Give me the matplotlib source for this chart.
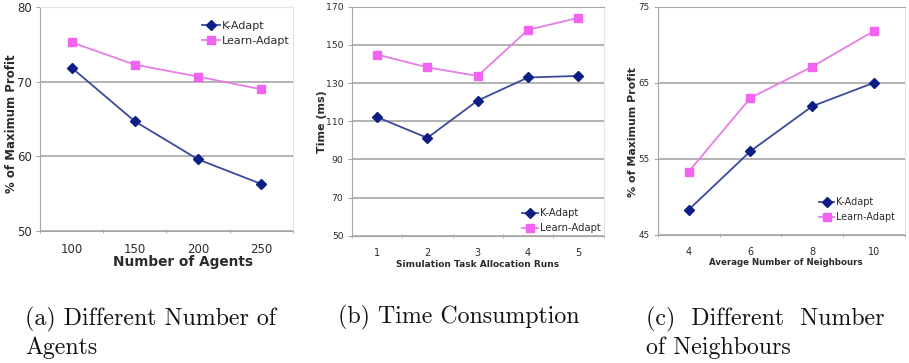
import matplotlib
matplotlib.use("Agg")
import matplotlib.pyplot as plt
import numpy as np

# (a) different number of agents
agents = ["100", "150", "200", "250"]
agents_k = [71.9, 64.7, 59.6, 56.3]
agents_learn = [75.3, 72.3, 70.7, 69.0]

# (b) time consumption
runs = ["1", "2", "3", "4", "5"]
time_k = [112.2, 101.3, 120.8, 132.9, 133.7]
time_learn = [144.9, 138.2, 133.7, 157.8, 164.1]

# (c) different number of neighbours
neighbours = ["4", "6", "8", "10"]
neigh_k = [48.3, 56.0, 61.9, 65.0]
neigh_learn = [53.3, 63.0, 67.1, 71.8]

K_LINE = "#3b4a9c"
K_MARK = "#0d1f85"
L_LINE = "#e67ee6"
L_MARK = "#f263f2"
GRID = "#a6a6a6"
TXT = "#2b2b2b"

fig = plt.figure(figsize=(9.09, 3.63), dpi=100)


def panel(rect, cats, k, learn, ylim, step, xlabel, ylabel, sizes, xl_pos, yl_pos,
          leg_anchor, top_col):
    # sizes: xlabel, ylabel, xticks, yticks, legend
    xls, yls, xts, yts, lgs = sizes
    ax = fig.add_axes(rect)
    x = np.arange(len(cats))
    ax.plot(x, k, color=K_LINE, lw=1.3, marker="D", ms=5.5,
            mfc=K_MARK, mec=K_MARK, label="K-Adapt", zorder=3)
    ax.plot(x, learn, color=L_LINE, lw=1.3, marker="s", ms=5.5,
            mfc=L_MARK, mec=L_MARK, label="Learn-Adapt", zorder=3)
    ax.set_xlim(-0.5, len(cats) - 0.5)
    ax.set_ylim(*ylim)
    ax.set_yticks(np.arange(ylim[0], ylim[1] + 0.1, step))
    ax.set_xticks(x)
    ax.set_xticklabels(cats)
    ax.set_xticks(np.arange(len(cats) + 1) - 0.5, minor=True)
    ax.tick_params(axis="x", which="major", length=0, pad=9,
                   labelsize=xts, labelcolor=TXT)
    ax.tick_params(axis="x", which="minor", length=3, color=GRID, direction="inout")
    ax.tick_params(axis="y", length=3, color=GRID, labelsize=yts,
                   labelcolor=TXT, pad=3)
    ax.yaxis.grid(True, color=GRID, lw=1.2)
    ax.set_axisbelow(True)
    for s in ["left", "bottom"]:
        ax.spines[s].set_color(GRID)
    ax.spines["top"].set_color(top_col)
    ax.spines["right"].set_color("#e4e4e4")
    ax.set_xlabel(xlabel, fontsize=xls, fontweight="bold", color=TXT, va="center")
    ax.set_ylabel(ylabel, fontsize=yls, fontweight="bold", color=TXT, va="center")
    ax.xaxis.set_label_coords(*xl_pos)
    ax.yaxis.set_label_coords(*yl_pos)
    ax.legend(loc="upper right", bbox_to_anchor=leg_anchor, frameon=False,
              fontsize=lgs, handlelength=1.6, handletextpad=0.2,
              labelspacing=0.5, borderaxespad=0, borderpad=0, labelcolor=TXT)
    return ax


panel([0.044, 0.364, 0.278, 0.616], agents, agents_k, agents_learn,
      (50, 80), 10, "Number of Agents", "% of Maximum Profit",
      (9.8, 8.5, 8.5, 8.5, 8), (0.565, -0.139), (-0.111, 0.48),
      (0.988, 0.94), "#e4e4e4")
panel([0.387, 0.350, 0.277, 0.632], runs, time_k, time_learn,
      (50, 170), 20, "Simulation Task Allocation Runs", "Time (ms)",
      (6.5, 8, 7, 6.7, 7.2), (0.498, -0.126), (-0.119, 0.5),
      (0.988, 0.12), GRID)
panel([0.7236, 0.353, 0.272, 0.629], neighbours, neigh_k, neigh_learn,
      (45, 75), 10, "Average Number of Neighbours", "% of Maximum Profit",
      (6.2, 7.9, 7, 6.3, 6.9), (0.517, -0.123), (-0.1, 0.45),
      (0.96, 0.165), GRID)

cap = dict(fontsize=17.2, family="cmr10", color="#111111", va="center", ha="left")
fig.text(25 / 909, 1 - 319 / 363, "(a) Different Number of", **cap)
fig.text(25 / 909, 1 - 348 / 363, "Agents", **cap)
fig.text(338 / 909, 1 - 317 / 363, "(b) Time Consumption", **cap)
fig.text(646 / 909, 1 - 319 / 363, "(c)  Different  Number", **cap)
fig.text(646 / 909, 1 - 348 / 363, "of Neighbours", **cap)

fig.savefig("out.png", dpi=100)
